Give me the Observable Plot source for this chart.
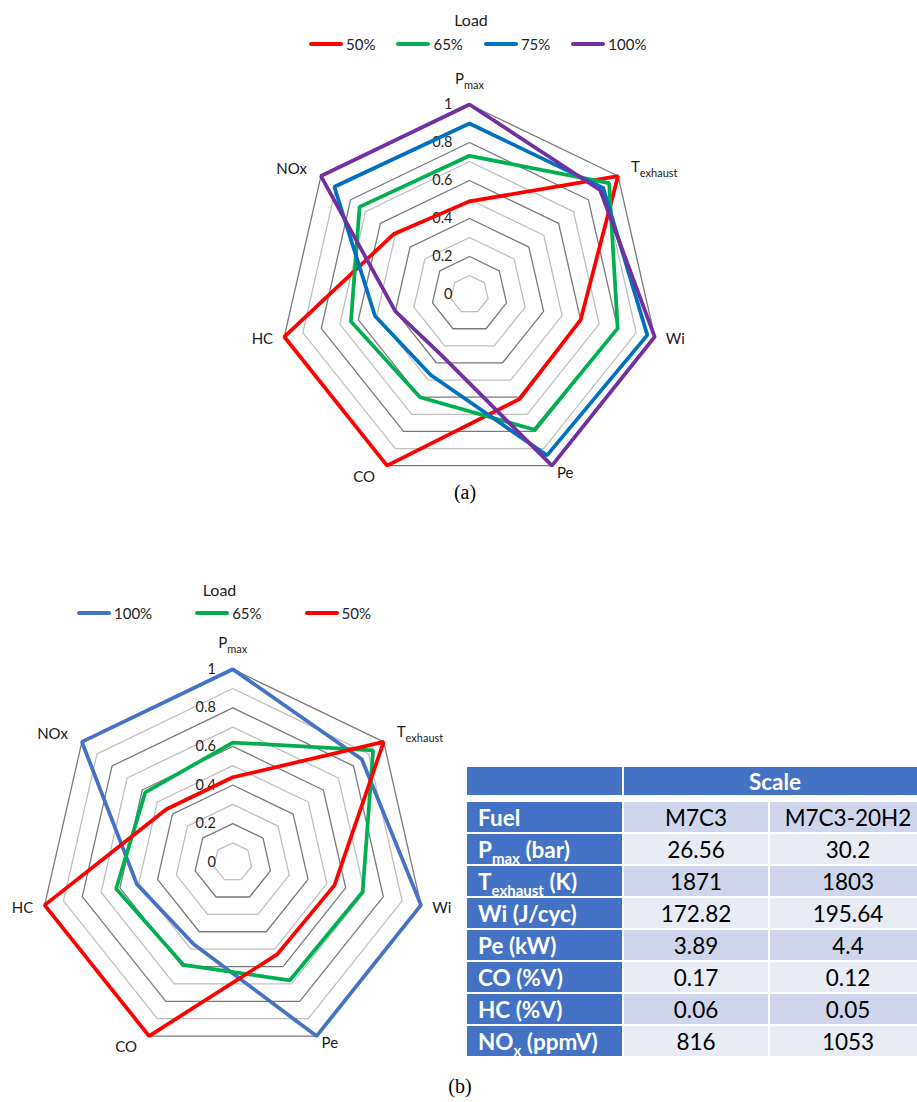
<!DOCTYPE html>
<html>
<head>
<meta charset="utf-8">
<script src="https://cdn.jsdelivr.net/npm/d3@7"></script>
<script src="https://cdn.jsdelivr.net/npm/@observablehq/plot@0.6"></script>
<style>
  html, body { margin: 0; padding: 0; background: #fff; }
  body { width: 917px; height: 1102px; position: relative; overflow: hidden; font-family: Lato, "Open Sans", sans-serif; color: #222; }
  .abs { position: absolute; }
  .ltitle { font-size: 16px; line-height: 16px; transform: translateX(-50%); white-space: nowrap; }
  .legend { display: flex; align-items: center; font-size: 15px; line-height: 16px; white-space: nowrap; }
  .legend .item { display: flex; align-items: center; }
  .legend .sw { width: 34px; height: 4px; border-radius: 2px; margin-right: 3px; }
  .cap { font-family: "Liberation Serif", "DejaVu Serif", serif; font-size: 20px; line-height: 20px; transform: translateX(-50%); color: #000; }
  .cell { position: absolute; display: flex; align-items: center; justify-content: center; font-size: 22.5px; color: #000; overflow: visible; white-space: nowrap; box-sizing: border-box; }
  .cell.head { background: #4472C4; color: #fff; font-weight: bold; }
  .cell.rowh { background: #4472C4; color: #fff; font-weight: bold; justify-content: flex-start; padding-left: 11px; }
  .cell.dark { background: #CFD5EA; }
  .cell.light { background: #E9EBF5; }
  .cell sub { font-size: 15px; line-height: 0; vertical-align: -6px; }
</style>
</head>
<body>
<script>
// ---------- data ----------
const axes = ["Pmax", "Texhaust", "Wi", "Pe", "CO", "HC", "NOx"];
const ticks = [0, 0.2, 0.4, 0.6, 0.8, 1];

// chart (a)
const seriesA = ["50%", "65%", "75%", "100%"];
const colorsA = ["#FF0000", "#00B050", "#0070C0", "#7030A0"];
const a50  = [0.49, 1.00, 0.60, 0.61, 1.00, 1.00, 0.51];
const a65  = [0.73, 0.94, 0.80, 0.79, 0.60, 0.64, 0.74];
const a75  = [0.90, 0.90, 0.96, 0.94, 0.47, 0.51, 0.91];
const a100 = [1.00, 0.88, 1.00, 1.00, 0.35, 0.40, 1.00];

// chart (b)
const seriesB = ["100%", "65%", "50%"];
const colorsB = ["#4472C4", "#00B050", "#FF0000"];
const b100 = [1.00, 0.855, 1.00, 1.00, 0.47, 0.51, 1.00];
const b65  = [0.62, 0.93, 0.69, 0.68, 0.59, 0.62, 0.58];
const b50  = [0.44, 1.00, 0.54, 0.53, 1.00, 1.00, 0.44];

// table
const tableHeader = "Scale";
const tableRows = ["Fuel", "Pmax (bar)", "Texhaust (K)", "Wi (J/cyc)", "Pe (kW)", "CO (%V)", "HC (%V)", "NOx (ppmV)"];
const colM7C3 = ["M7C3", "26.56", "1871", "172.82", "3.89", "0.17", "0.06", "816"];
const colM7C3H2 = ["M7C3-20H2", "30.2", "1803", "195.64", "4.4", "0.12", "0.05", "1053"];

// ---------- helpers ----------
const subs = {Pmax: ["P", "max"], Texhaust: ["T", "exhaust"], NOx: ["NO", "x"]};

function radar({values, series, colors, cx, cy, R, width, height}) {
  const n = axes.length;
  const ang = i => 2 * Math.PI * i / n;
  const px = (r, i) => r * Math.sin(ang(i));
  const py = (r, i) => r * Math.cos(ang(i));
  const rings = d3.range(1, 11).map(k => k / 10);
  const ringPts = rings.flatMap((r, k) => axes.map((a, i) => ({r, major: (k % 2) === 1, x: px(r, i), y: py(r, i)})));
  const pts = series.flatMap((s, si) => values[si].map((v, i) => ({s, x: px(v, i), y: py(v, i)})));
  const nudge = {Pmax: [0, 0], Texhaust: [4, -2], Pe: [0, -3], CO: [-7, 1], NOx: [-5, 0]};
  const labels = axes.map((a, i) => {
    const r = i === 0 ? 1.135 : 1.06;
    const s = Math.sin(ang(i));
    const [dx, dy] = nudge[a] || [0, 0];
    return {a, x: px(r, i), y: py(r, i), anchor: s > 0.1 ? "start" : s < -0.1 ? "end" : "middle", dx, dy};
  });
  const svg = Plot.plot({
    width, height,
    x: {domain: [-1, 1], range: [cx - R, cx + R], axis: null},
    y: {domain: [-1, 1], range: [cy + R, cy - R], axis: null},
    color: {domain: series, range: colors},
    style: {background: "transparent", fontFamily: "Lato, sans-serif", overflow: "visible"},
    marks: [
      Plot.line(ringPts.filter(d => !d.major), {x: "x", y: "y", z: "r", curve: "linear-closed", stroke: "#c0c0c0", strokeWidth: 1.3}),
      Plot.line(ringPts.filter(d => d.major), {x: "x", y: "y", z: "r", curve: "linear-closed", stroke: "#7a7a7a", strokeWidth: 1.3}),
      Plot.text(ticks, {x: () => 0, y: d => d, text: d => String(d), textAnchor: "end", dx: -17, fontSize: 14.5, fill: "#262626"}),
      Plot.line(pts, {x: "x", y: "y", z: "s", stroke: "s", curve: "linear-closed", strokeWidth: 3.75, strokeLinejoin: "miter"}),
      ...["start", "middle", "end"].map(an =>
        Plot.text(labels.filter(d => d.anchor === an), {x: "x", y: "y", text: "a", textAnchor: an, fontSize: 15, fill: "#1a1a1a"}))
    ]
  });
  // apply nudges and subscripts
  d3.select(svg).selectAll("text").each(function() {
    const t = this.textContent;
    const lab = labels.find(l => l.a === t);
    if (!lab) return;
    const sel = d3.select(this);
    if (lab.dx || lab.dy) sel.attr("transform", (sel.attr("transform") || "") + ` translate(${lab.dx},${lab.dy})`);
    if (subs[t] && t !== "NOx") {
      sel.text(subs[t][0]);
      sel.append("tspan").attr("font-size", 11).attr("dy", 5).text(subs[t][1]);
    }
  });
  return svg;
}

function legend(title, titleX, titleY, left, y, series, colors, gap) {
  const t = document.createElement("div");
  t.className = "abs ltitle";
  t.style.left = titleX + "px"; t.style.top = (titleY - 8) + "px";
  t.textContent = title;
  document.body.appendChild(t);
  const l = document.createElement("div");
  l.className = "abs legend";
  l.style.left = left + "px"; l.style.top = (y - 8) + "px"; l.style.gap = gap + "px";
  series.forEach((s, i) => {
    const it = document.createElement("div"); it.className = "item";
    const sw = document.createElement("div"); sw.className = "sw"; sw.style.background = colors[i];
    const tx = document.createElement("span"); tx.textContent = s;
    it.appendChild(sw); it.appendChild(tx); l.appendChild(it);
  });
  document.body.appendChild(l);
}

function caption(text, x, y) {
  const c = document.createElement("div");
  c.className = "abs cap"; c.style.left = x + "px"; c.style.top = (y - 10) + "px";
  c.textContent = text;
  document.body.appendChild(c);
}

// ---------- chart (a) ----------
const svgA = radar({values: [a50, a65, a75, a100], series: seriesA, colors: colorsA, cx: 469, cy: 294, R: 190, width: 917, height: 520});
svgA.style.position = "absolute"; svgA.style.left = "0px"; svgA.style.top = "0px";
document.body.appendChild(svgA);
legend("Load", 471, 20, 309, 44, seriesA, colorsA, 21);
caption("(a)", 465, 492);

// ---------- chart (b) ----------
const topB = 560;
const svgB = radar({values: [b100, b65, b50], series: seriesB, colors: colorsB, cx: 232.3, cy: 861.7 - topB, R: 193, width: 460, height: 500});
svgB.style.position = "absolute"; svgB.style.left = "0px"; svgB.style.top = topB + "px";
document.body.appendChild(svgB);
legend("Load", 219.5, 590, 77, 613, seriesB, colorsB, 43);
caption("(b)", 460, 1086);

// ---------- table ----------
const colX = [467, 624, 770], colW = [155, 144, 156];
function addCell(cls, x, y, w, h, html) {
  const d = document.createElement("div");
  d.className = "cell " + cls;
  d.style.left = x + "px"; d.style.top = y + "px"; d.style.width = w + "px"; d.style.height = h + "px";
  d.innerHTML = "<span>" + html + "</span>";
  document.body.appendChild(d);
}
function subHtml(s) {
  for (const k of Object.keys(subs)) {
    if (s.startsWith(k)) return subs[k][0] + "<sub>" + subs[k][1] + "</sub>" + s.slice(k.length);
  }
  return s;
}
addCell("head", colX[0], 767, colW[0], 28, "");
addCell("head", colX[1], 767, colX[2] + colW[2] - colX[1], 28, tableHeader);
tableRows.forEach((r, k) => {
  const y = 802 + 32 * k;
  const shade = k % 2 === 0 ? "dark" : "light";
  addCell("rowh", colX[0], y, colW[0], 30, subHtml(r));
  addCell(shade, colX[1], y, colW[1], 30, colM7C3[k]);
  addCell(shade, colX[2], y, colW[2], 30, colM7C3H2[k]);
});
</script>
</body>
</html>
